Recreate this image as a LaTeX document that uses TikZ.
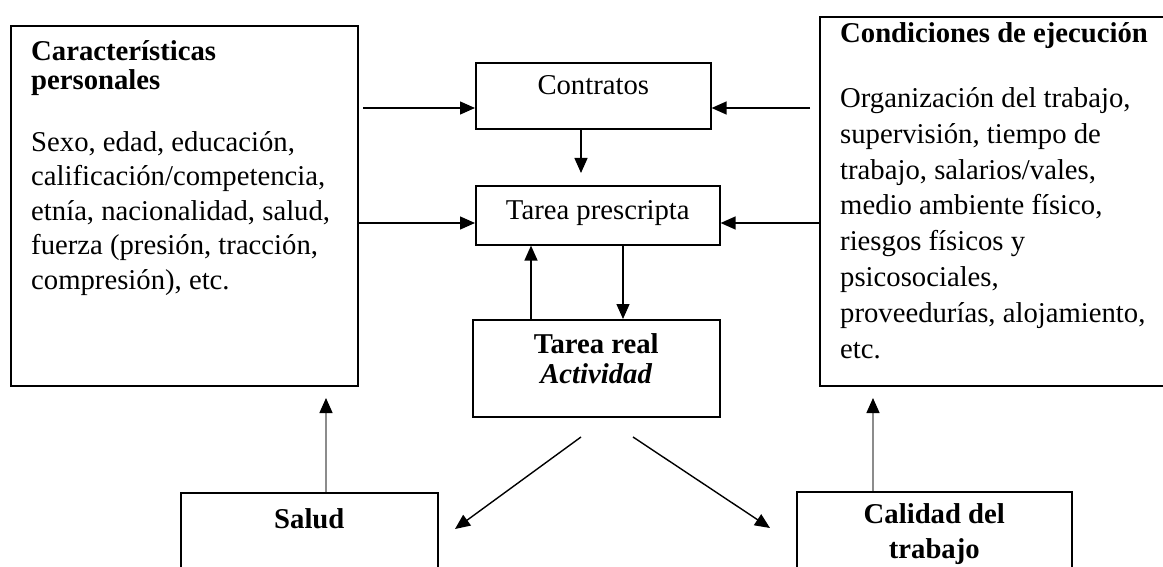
\documentclass[tikz,border=0pt]{standalone}
\usepackage{fontspec}
\setmainfont{Liberation Serif}
\usetikzlibrary{arrows.meta,positioning}

\tikzset{
	caja/.style={draw, line width=1.6pt, inner sep=0pt, anchor=north west},
	texto/.style={inner sep=0pt, anchor=base west, align=left, font=\fontsize{28.7}{34.5}\selectfont},
	titulo/.style={texto, font=\fontsize{28.7}{29}\selectfont\bfseries},
	rotulo/.style={inner sep=0pt, anchor=base, align=center, font=\fontsize{28.7}{32}\selectfont},
	flecha/.style={line width=1.4pt, -{Triangle[length=15pt,width=13pt]}},
	flechagris/.style={flecha, draw=black!45, -{Triangle[length=15pt,width=13pt,color=black]}},
}

\begin{document}
\begin{tikzpicture}[x=1pt, y=-1pt]
	\useasboundingbox (0,0) rectangle (1163,567);
	\clip (0,0) rectangle (1163,567);

	% cajas
	\node[caja, minimum width=347pt, minimum height=360pt] (caract) at (10,25) {};
	\node[caja, minimum width=370pt, minimum height=369pt] (condic) at (819,16) {};
	\node[caja, minimum width=235pt, minimum height=66pt] (contratos) at (475,62) {};
	\node[caja, minimum width=244pt, minimum height=59pt] (prescr) at (475,185) {};
	\node[caja, minimum width=247pt, minimum height=97pt] (real) at (472,319) {};
	\node[caja, minimum width=257pt, minimum height=100pt] (salud) at (180,492) {};
	\node[caja, minimum width=275pt, minimum height=100pt] (calidad) at (796,491) {};

	% textos (anclados en la linea base de la ultima linea)
	\node[titulo] (caracttit) at (31,90) {Características\\personales};
	\node[texto] (caracttxt) at (31,289) {Sexo, edad, educación,\\calificación/competencia,\\etnía, nacionalidad, salud,\\fuerza (presión, tracción,\\compresión), etc.};
	\node[titulo] (condictit) at (840,43) {Condiciones de ejecución};
	\node[texto, font=\fontsize{28.7}{35.8}\selectfont] (condictxt) at (840,358) {Organización del trabajo,\\supervisión, tiempo de\\trabajo, salarios/vales,\\medio ambiente físico,\\riesgos físicos y\\psicosociales,\\proveedurías, alojamiento,\\etc.};
	\node[rotulo] (contratostxt) at ([yshift=-33pt]contratos.north) {Contratos};
	\node[rotulo] (prescrtxt) at ([yshift=-35pt]prescr.north) {Tarea prescripta};
	\node[rotulo, font=\fontsize{28.7}{30}\selectfont\bfseries] (realtxt) at ([yshift=-64pt]real.north) {Tarea real\\\textit{Actividad}};
	\node[rotulo, font=\fontsize{28.7}{35}\selectfont\bfseries] (saludtxt) at ([yshift=-36pt]salud.north) {Salud};
	\node[rotulo, font=\fontsize{28.7}{35}\selectfont\bfseries] (calidadtxt) at ([yshift=-67pt]calidad.north) {Calidad del\\trabajo};

	% flechas
	\coordinate (c1) at (363,108);
	\coordinate (c2) at (810,108);
	\coordinate (c3) at (0,223);
	\coordinate (c4) at (581,173);
	\coordinate (c5) at (531,0);
	\coordinate (c6) at (623,0);
	\coordinate (d1) at (581,437);
	\coordinate (d2) at (455,529);
	\coordinate (d3) at (633,437);
	\coordinate (d4) at (770,528);
	\coordinate (c7) at (326,398);
	\coordinate (c8) at (873,398);

	\draw[flecha] (c1) -- (c1 -| contratos.west);
	\draw[flecha] (c2) -- (c2 -| contratos.east);
	\draw[flecha] (c3 -| caract.east) -- (c3 -| prescr.west);
	\draw[flecha] (c3 -| condic.west) -- (c3 -| prescr.east);
	\draw[flecha] (c4 |- contratos.south) -- (c4);
	\draw[flecha] (c5 |- real.north) -- (c5 |- prescr.south);
	\draw[flecha] (c6 |- prescr.south) -- (c6 |- real.north);
	\draw[flecha] (d1) -- (d2);
	\draw[flecha] (d3) -- (d4);
	\draw[flechagris] (c7 |- salud.north) -- (c7);
	\draw[flechagris] (c8 |- calidad.north) -- (c8);
\end{tikzpicture}
\end{document}
